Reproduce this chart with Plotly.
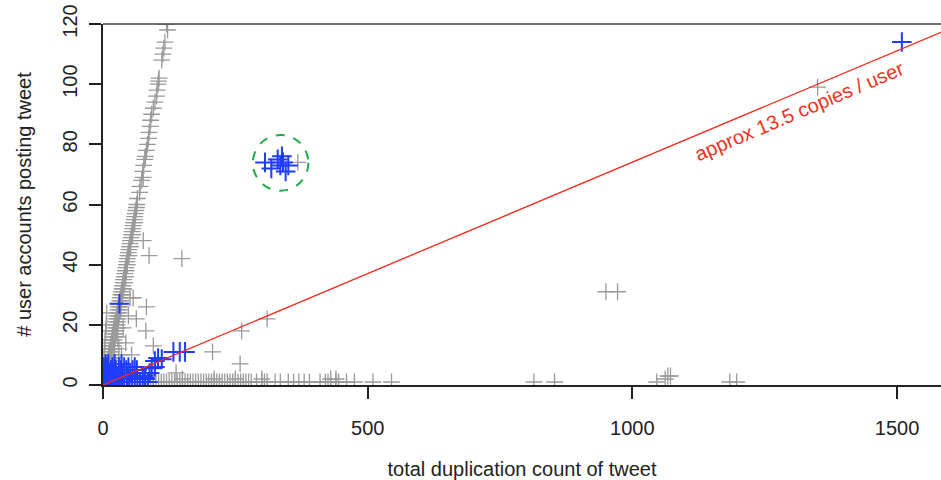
import plotly.graph_objects as go

# ---------------- data ----------------
# grey: all tweets (total duplication count, # user accounts)
gray_x = [
    # steep branch (about one copy per user)
    3, 8, 14, 20, 4, 10, 18, 5, 12, 22, 6, 9, 16, 7, 13, 25, 8, 11, 19, 9, 15,
    10, 14, 21, 11, 16, 12, 17, 14, 19, 15, 20, 16, 22, 17, 21, 18, 23, 19, 24,
    20, 25, 21, 27, 22, 26, 23, 28, 25, 29, 26, 30, 27, 31, 28, 33, 29, 34, 31,
    32, 35, 33, 34, 37, 35, 36, 39, 37, 38, 41, 39, 40, 43, 41, 42, 44, 43, 44,
    46, 45, 46, 47, 49, 48, 49, 50, 52, 51, 52, 53, 54, 56, 55, 56, 57, 58, 60,
    59, 60, 61, 62, 63, 64, 65, 69, 70, 73, 76, 75, 77, 79, 80, 82, 84, 86, 87,
    89, 90, 92, 95, 98, 101, 102, 104, 105, 106, 111, 113, 115, 117, 122, 120,
    2, 3, 4, 5, 2, 6, 7, 30, 28, 35,
    # scattered off the branch
    76, 87, 149, 51, 57, 82, 48, 63, 81, 38, 43, 95, 54, 138, 207, 262, 259,
    310, 368, 1350, 950, 972,
    # long tail along the bottom
    60, 65, 70, 75, 80, 85, 90, 95, 100, 105, 110, 115, 120, 125, 130, 135,
    140, 145, 150, 155, 160, 165, 170, 175, 180, 185, 190, 195, 200, 205, 210,
    215, 220, 225, 230, 235, 240, 245, 250, 255, 260, 265, 270, 275, 280, 290,
    300, 305, 310, 325, 335, 350, 360, 370, 380, 390, 410, 420, 425, 430, 440,
    445, 460, 475, 510, 545, 814, 853, 1046, 1184, 1197,
    95, 150, 210, 250, 300, 430, 440, 1062, 1067, 1072,
]
gray_y = [
    2, 2, 2, 2, 3, 3, 3, 4, 4, 4, 5, 5, 5, 6, 6, 6, 7, 7, 7, 8, 8,
    9, 9, 9, 10, 10, 11, 11, 12, 12, 13, 13, 14, 14, 15, 15, 16, 16, 17, 17,
    18, 18, 19, 19, 20, 20, 21, 21, 22, 22, 23, 23, 24, 24, 25, 25, 26, 26, 27,
    28, 28, 29, 30, 30, 31, 32, 32, 33, 34, 34, 35, 36, 36, 37, 38, 38, 39, 40,
    40, 41, 42, 43, 43, 44, 45, 46, 46, 47, 48, 49, 50, 50, 51, 52, 53, 54, 54,
    55, 56, 57, 58, 59, 60, 62, 64, 66, 68, 69, 71, 73, 75, 76, 78, 80, 82, 84,
    86, 88, 90, 92, 94, 96, 98, 100, 101, 102, 108, 110, 112, 114, 118, 120,
    9, 12, 15, 18, 6, 20, 24, 12, 16, 10,
    48, 43, 42, 29, 29, 26, 23, 22, 18, 19, 14, 13, 10, 4, 11, 18, 7,
    22, 74, 99, 31, 31,
    1, 1, 1, 1, 1, 1, 1, 1, 1, 1, 1, 1, 1, 1, 1, 1,
    1, 1, 1, 1, 1, 1, 1, 1, 1, 1, 1, 1, 1, 1, 1,
    1, 1, 1, 1, 1, 1, 1, 1, 1, 1, 1, 1, 1, 1, 1,
    1, 1, 1, 1, 1, 1, 1, 1, 1, 1, 1, 1, 1, 1, 1,
    1, 1, 1, 1, 1, 1, 1, 1, 1, 1, 1,
    2, 2, 2, 2, 2, 2, 2, 3, 3, 3,
]

# blue: highlighted tweets
blue_x = [
    0, 1, 2, 3, 4, 5, 6, 8, 10, 12, 14, 16, 18, 20, 22, 25, 28, 30, 33, 36,
    40, 45, 50, 55, 60, 65, 70, 3, 6, 9, 12, 15, 18, 20, 24, 27, 30, 33, 36,
    40, 44, 48, 52, 56, 60, 64, 2, 5, 8, 1, 3, 75, 80, 85, 88, 10, 22, 35, 47,
    92, 98, 98, 104, 111, 133, 145, 155, 79,
    31,
    306, 318, 330, 335, 340, 345, 350, 338,
    1509,
]
blue_y = [
    0, 1, 1, 2, 1, 3, 2, 1, 1, 2, 1, 3, 1, 2, 1, 1, 2, 1, 1, 2,
    1, 1, 2, 1, 1, 2, 1, 4, 5, 3, 4, 5, 6, 4, 5, 3, 6, 5, 4,
    6, 5, 6, 4, 5, 6, 5, 6, 7, 6, 3, 0, 3, 2, 1, 4, 7, 7, 7, 3,
    5.6, 6, 8, 9, 8.6, 11, 11, 11, 2.3,
    27,
    74, 72, 75, 73, 74, 71, 73, 76,
    114,
]

copies_per_user = 13.5
line_label = "approx 13.5 copies / user"

x_ticks = [0, 500, 1000, 1500]
y_ticks = [0, 20, 40, 60, 80, 100, 120]
x_title = "total duplication count of tweet"
y_title = "# user accounts posting tweet"

x_max = 1583
y_max = 120

# ---------------- figure ----------------
FONT = "Liberation Sans, Arial, Helvetica, sans-serif"

fig = go.Figure()

fig.add_trace(go.Scatter(
    x=gray_x, y=gray_y, mode="markers",
    marker=dict(symbol="cross-thin", size=12, color="#9a9a9a",
                line=dict(color="#9a9a9a", width=1.3)),
    hoverinfo="x+y", showlegend=False, cliponaxis=True,
))
fig.add_trace(go.Scatter(
    x=blue_x, y=blue_y, mode="markers",
    marker=dict(symbol="cross-thin", size=14, color="#1f3cff",
                line=dict(color="#1f3cff", width=2)),
    hoverinfo="x+y", showlegend=False, cliponaxis=True,
))

# red reference line: y = x / copies_per_user
line_x = [0, x_max]
line_y = [v / copies_per_user for v in line_x]
fig.add_trace(go.Scatter(
    x=line_x, y=line_y, mode="lines",
    line=dict(color="#f22a1a", width=1.3),
    hoverinfo="skip", showlegend=False,
))

# green dashed circle around the cluster
fig.add_shape(type="circle", xref="x", yref="y",
              x0=283, x1=388, y0=64.6, y1=83.1,
              line=dict(color="#1faa4a", width=2, dash="dash"))

# line label
fig.add_annotation(
    x=1316, y=91, xref="x", yref="y", text=line_label, showarrow=False,
    textangle=-23, font=dict(family=FONT, size=20, color="#ee3322"),
)

fig.update_xaxes(
    range=[0, x_max], tickvals=x_ticks, ticktext=[str(v) for v in x_ticks],
    showgrid=False, zeroline=False, showline=True, linecolor="#222",
    linewidth=1.5, mirror=False, ticks="outside", ticklen=12, tickwidth=1.5,
    tickcolor="#222", ticklabelstandoff=12,
    tickfont=dict(family=FONT, size=20, color="#222"),
    title=dict(text=x_title, font=dict(family=FONT, size=20, color="#222"),
               standoff=30),
)
fig.update_yaxes(
    range=[0, y_max], tickvals=y_ticks, ticktext=[str(v) for v in y_ticks],
    showgrid=False, zeroline=False, showline=True, linecolor="#222",
    linewidth=1.5, ticks="outside", ticklen=12, tickwidth=1.5,
    tickcolor="#222", tickangle=-90, ticklabelstandoff=4,
    tickfont=dict(family=FONT, size=20, color="#222"),
    title=dict(text=y_title, font=dict(family=FONT, size=20, color="#222"),
               standoff=22),
)

# top border of the box
fig.add_shape(type="line", xref="paper", yref="paper", x0=0, x1=1, y0=1, y1=1,
              line=dict(color="#444", width=1.5))

fig.update_layout(
    width=941, height=480,
    margin=dict(l=103, r=0, t=24, b=95, autoexpand=False),
    plot_bgcolor="white", paper_bgcolor="white",
    font=dict(family=FONT),
)

fig.write_html(
    "out.html",
    config={"displayModeBar": False},
    post_script="document.body.style.margin='0';document.body.style.overflow='hidden';",
)
